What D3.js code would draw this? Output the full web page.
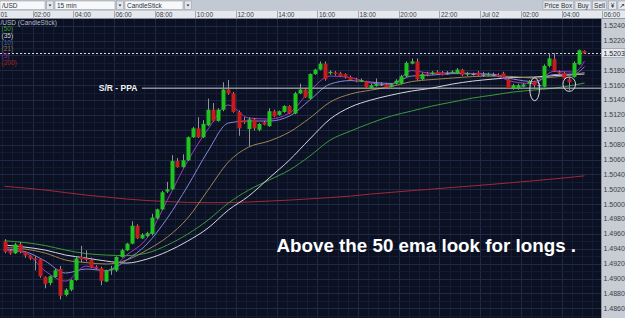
<!DOCTYPE html>
<html>
<head>
<meta charset="utf-8">
<script src="https://cdn.jsdelivr.net/npm/d3@7"></script>
<style>
  body { margin: 0; background: #0b1122; }
  svg { display: block; font-family: "Liberation Sans", Arial, sans-serif; }
</style>
</head>
<body>
<div id="chart"></div>
<script>
// 15 min GBP/USD bars, 1 Jul 00:30 -> 2 Jul 05:00
const opens = [
  1.4950, 1.4937, 1.4934, 1.4946, 1.4936, 1.4931, 1.4927, 1.4926, 1.4902, 1.4894,
  1.4902, 1.4913, 1.4878, 1.4885, 1.4898, 1.4929, 1.4927, 1.4925, 1.4916, 1.4914,
  1.4896, 1.4911, 1.4911, 1.4929, 1.4938, 1.4947, 1.4971, 1.4954, 1.4957, 1.4960,
  1.4981, 1.4993, 1.5017, 1.5020, 1.5058, 1.5050, 1.5059, 1.5090, 1.5102, 1.5090,
  1.5106, 1.5127, 1.5112, 1.5127, 1.5154, 1.5149, 1.5124, 1.5113, 1.5101, 1.5114,
  1.5100, 1.5110, 1.5105, 1.5125, 1.5120, 1.5124, 1.5132, 1.5122, 1.5149, 1.5154,
  1.5142, 1.5175, 1.5181, 1.5189, 1.5176, 1.5177, 1.5176, 1.5175, 1.5171, 1.5168,
  1.5165, 1.5165, 1.5156, 1.5159, 1.5161, 1.5161, 1.5158, 1.5162, 1.5162, 1.5172,
  1.5189, 1.5192, 1.5168, 1.5176, 1.5175, 1.5178, 1.5177, 1.5176, 1.5176, 1.5176,
  1.5181, 1.5174, 1.5175, 1.5177, 1.5174, 1.5173, 1.5174, 1.5174, 1.5176, 1.5168,
  1.5156, 1.5156, 1.5158, 1.5162, 1.5165, 1.5160, 1.5158, 1.5186, 1.5195, 1.5178,
  1.5176, 1.5168, 1.5171, 1.5188, 1.5206
];
const highs = [
  1.4953, 1.4939, 1.4948, 1.4949, 1.4937, 1.4932, 1.4930, 1.4927, 1.4903, 1.4904,
  1.4913, 1.4917, 1.4887, 1.4899, 1.4929, 1.4944, 1.4938, 1.4928, 1.4918, 1.4916,
  1.4912, 1.4917, 1.4930, 1.4940, 1.4948, 1.4977, 1.4973, 1.4961, 1.4963, 1.4987,
  1.4994, 1.5018, 1.5030, 1.5066, 1.5062, 1.5067, 1.5091, 1.5104, 1.5117, 1.5113,
  1.5142, 1.5136, 1.5129, 1.5164, 1.5167, 1.5151, 1.5126, 1.5117, 1.5117, 1.5116,
  1.5109, 1.5112, 1.5129, 1.5127, 1.5126, 1.5133, 1.5133, 1.5151, 1.5162, 1.5156,
  1.5176, 1.5182, 1.5192, 1.5192, 1.5180, 1.5179, 1.5178, 1.5176, 1.5173, 1.5170,
  1.5169, 1.5166, 1.5162, 1.5169, 1.5164, 1.5163, 1.5163, 1.5168, 1.5174, 1.5192,
  1.5196, 1.5196, 1.5177, 1.5178, 1.5179, 1.5180, 1.5179, 1.5179, 1.5180, 1.5183,
  1.5182, 1.5178, 1.5177, 1.5179, 1.5178, 1.5177, 1.5177, 1.5176, 1.5178, 1.5170,
  1.5162, 1.5162, 1.5163, 1.5167, 1.5166, 1.5163, 1.5188, 1.5203, 1.5203, 1.5180,
  1.5178, 1.5171, 1.5192, 1.5208, 1.5207
];
const lows = [
  1.4934, 1.4932, 1.4933, 1.4934, 1.4928, 1.4925, 1.4911, 1.4901, 1.4887, 1.4891,
  1.4901, 1.4872, 1.4876, 1.4883, 1.4897, 1.4922, 1.4923, 1.4914, 1.4912, 1.4891,
  1.4895, 1.4905, 1.4909, 1.4928, 1.4937, 1.4946, 1.4953, 1.4953, 1.4956, 1.4958,
  1.4980, 1.4992, 1.5015, 1.5019, 1.5049, 1.5049, 1.5058, 1.5089, 1.5089, 1.5089,
  1.5105, 1.5111, 1.5111, 1.5125, 1.5147, 1.5123, 1.5092, 1.5108, 1.5078, 1.5099,
  1.5098, 1.5106, 1.5104, 1.5117, 1.5119, 1.5123, 1.5121, 1.5121, 1.5148, 1.5143,
  1.5141, 1.5174, 1.5180, 1.5166, 1.5174, 1.5173, 1.5171, 1.5169, 1.5166, 1.5164,
  1.5164, 1.5155, 1.5155, 1.5158, 1.5159, 1.5156, 1.5157, 1.5161, 1.5161, 1.5171,
  1.5188, 1.5166, 1.5167, 1.5172, 1.5174, 1.5174, 1.5173, 1.5174, 1.5175, 1.5175,
  1.5172, 1.5172, 1.5173, 1.5172, 1.5171, 1.5172, 1.5172, 1.5171, 1.5170, 1.5155,
  1.5154, 1.5154, 1.5157, 1.5161, 1.5156, 1.5157, 1.5157, 1.5184, 1.5178, 1.5175,
  1.5168, 1.5153, 1.5170, 1.5187, 1.5202
];
const closes = [
  1.4936, 1.4934, 1.4946, 1.4936, 1.4931, 1.4927, 1.4925, 1.4903, 1.4893, 1.4903,
  1.4911, 1.4877, 1.4885, 1.4898, 1.4927, 1.4926, 1.4925, 1.4915, 1.4914, 1.4897,
  1.4911, 1.4913, 1.4929, 1.4938, 1.4947, 1.4971, 1.4954, 1.4959, 1.4961, 1.4982,
  1.4993, 1.5016, 1.5020, 1.5058, 1.5050, 1.5059, 1.5090, 1.5102, 1.5090, 1.5108,
  1.5127, 1.5112, 1.5127, 1.5154, 1.5149, 1.5124, 1.5102, 1.5110, 1.5114, 1.5102,
  1.5108, 1.5107, 1.5125, 1.5118, 1.5125, 1.5132, 1.5122, 1.5149, 1.5154, 1.5144,
  1.5175, 1.5181, 1.5189, 1.5168, 1.5178, 1.5175, 1.5172, 1.5171, 1.5167, 1.5166,
  1.5167, 1.5157, 1.5160, 1.5162, 1.5161, 1.5157, 1.5161, 1.5166, 1.5172, 1.5190,
  1.5192, 1.5168, 1.5175, 1.5174, 1.5177, 1.5175, 1.5174, 1.5176, 1.5178, 1.5181,
  1.5174, 1.5176, 1.5175, 1.5173, 1.5174, 1.5175, 1.5174, 1.5172, 1.5171, 1.5156,
  1.5160, 1.5160, 1.5161, 1.5165, 1.5160, 1.5160, 1.5186, 1.5196, 1.5179, 1.5176,
  1.5169, 1.5164, 1.5190, 1.5207, 1.5203
];

// moving averages at these bar numbers
const emaBars = [0, 4, 8, 12, 16, 20, 24, 28, 32, 36, 40, 44, 48, 52, 56, 60, 64, 68, 72, 76,
                 80, 84, 88, 92, 96, 100, 104, 108, 112, 114];
const ema5 = [1.49383, 1.49349, 1.49101, 1.48966, 1.49168, 1.49101, 1.49316, 1.49544, 1.50055, 1.50580,
              1.51010, 1.51333, 1.51158, 1.51145, 1.51225, 1.51521, 1.51723, 1.51703, 1.51629, 1.51608,
              1.51797, 1.51759, 1.51770, 1.51756, 1.51736, 1.51646, 1.51622, 1.51787, 1.51776, 1.51924];
const ema10 = [1.49397, 1.49363, 1.49235, 1.49074, 1.49128, 1.49107, 1.49249, 1.49464, 1.49813, 1.50244,
               1.50714, 1.51091, 1.51118, 1.51118, 1.51185, 1.51400, 1.51615, 1.51662, 1.51642, 1.51622,
               1.51723, 1.51736, 1.51756, 1.51756, 1.51747, 1.51682, 1.51649, 1.51743, 1.51750, 1.51850];
const ema21 = [1.49417, 1.49397, 1.49343, 1.49249, 1.49215, 1.49195, 1.49249, 1.49383, 1.49558, 1.49813,
               1.50190, 1.50566, 1.50768, 1.50849, 1.50970, 1.51158, 1.51373, 1.51481, 1.51534, 1.51582,
               1.51649, 1.51676, 1.51696, 1.51716, 1.51723, 1.51716, 1.51696, 1.51709, 1.51743, 1.51770];
const ema35 = [1.49450, 1.49423, 1.49383, 1.49316, 1.49276, 1.49235, 1.49208, 1.49262, 1.49363, 1.49504,
               1.49679, 1.49921, 1.50109, 1.50351, 1.50593, 1.50876, 1.51145, 1.51306, 1.51400, 1.51467,
               1.51521, 1.51561, 1.51615, 1.51655, 1.51682, 1.51703, 1.51709, 1.51729, 1.51743, 1.51750];
const ema50 = [1.49508, 1.49484, 1.49444, 1.49383, 1.49336, 1.49316, 1.49309, 1.49343, 1.49450, 1.49598,
               1.49786, 1.50015, 1.50190, 1.50324, 1.50459, 1.50647, 1.50862, 1.50983, 1.51091, 1.51185,
               1.51252, 1.51319, 1.51373, 1.51427, 1.51467, 1.51508, 1.51534, 1.51561, 1.51602, 1.51629];
const ema200 = [1.50241, 1.50217, 1.50190, 1.50156, 1.50123, 1.50096, 1.50069, 1.50049, 1.50035, 1.50024,
                1.50020, 1.50022, 1.50029, 1.50042, 1.50055, 1.50072, 1.50089, 1.50109, 1.50136, 1.50159,
                1.50182, 1.50203, 1.50225, 1.50246, 1.50268, 1.50291, 1.50315, 1.50340, 1.50367, 1.50381];

const priceTicks = d3.range(1.4860, 1.52401, 0.0020);
const lastPrice = 1.5203;
const srLevel = 1.5156;
const srStartBar = 27;

const legendLabels = ["(50)", "(35)", "(10)", "(21)", "(5)", "(200)"];
const legendColors = ["#3f9f3f", "#cfd2d8", "#5568a8", "#8e7a4e", "#8a2fa0", "#a82222"];

const dimensions = {
  width: 625,
  height: 318,
  toolbar: 11,
  timeRow: 7.5,
  axisWidth: 24,
  barWidth: 4
};
const plot = {
  left: 0,
  right: dimensions.width - dimensions.axisWidth,
  top: dimensions.toolbar + dimensions.timeRow,
  bottom: dimensions.height
};

const svg = d3.select("#chart")
  .append("svg")
  .attr("width", dimensions.width)
  .attr("height", dimensions.height);

const startTime = Date.UTC(2010, 6, 1, 0, 30);
const barMs = 15 * 60 * 1000;
const barTime = i => new Date(startTime + i * barMs);

const xScale = d3.scaleUtc()
  .domain([new Date(Date.UTC(2010, 6, 1, 0, 0)), new Date(Date.UTC(2010, 6, 2, 6, 0))])
  .range([-8.2, 602.3]);
const barX = i => xScale(new Date(+barTime(i) + barMs / 2));

const yScale = d3.scaleLinear()
  .domain([1.4860, 1.5240])
  .range([308.3, 25.7]);

// plot background + grid
svg.append("rect")
  .attr("x", plot.left).attr("y", plot.top)
  .attr("width", plot.right - plot.left).attr("height", plot.bottom - plot.top)
  .attr("fill", "#0b1122");

svg.append("clipPath").attr("id", "plotClip")
  .append("rect")
  .attr("x", plot.left).attr("y", plot.top)
  .attr("width", plot.right - plot.left).attr("height", plot.bottom - plot.top);

const chart = svg.append("g").attr("clip-path", "url(#plotClip)");

const minorTimes = xScale.ticks(d3.utcMinute.every(30));
chart.append("g").selectAll("line")
  .data(minorTimes)
  .join("line")
  .attr("x1", d => Math.round(xScale(d)) + 0.5)
  .attr("x2", d => Math.round(xScale(d)) + 0.5)
  .attr("y1", plot.top).attr("y2", plot.bottom)
  .attr("stroke", d => d.getUTCMinutes() === 0 && d.getUTCHours() % 2 === 0 ? "#1d2945" : "#141c33")
  .attr("stroke-width", 1);

const minorPrices = d3.range(1.4840, 1.5260, 0.0010);
chart.append("g").selectAll("line")
  .data(minorPrices)
  .join("line")
  .attr("x1", plot.left).attr("x2", plot.right)
  .attr("y1", d => Math.round(yScale(d)) + 0.5)
  .attr("y2", d => Math.round(yScale(d)) + 0.5)
  .attr("stroke", (d, i) => i % 2 === 0 ? "#1d2945" : "#141c33")
  .attr("stroke-width", 1);

// moving averages
const emaSeries = [
  { values: ema200, color: "#a3283a" },
  { values: ema50, color: "#3c9a3c" },
  { values: ema35, color: "#d4d6de" },
  { values: ema21, color: "#9c8458" },
  { values: ema10, color: "#8488d8" },
  { values: ema5, color: "#a637c8" }
];
const line = d3.line()
  .x((d, i) => barX(emaBars[i]))
  .y(d => yScale(d))
  .curve(d3.curveMonotoneX);

chart.append("g").selectAll("path")
  .data(emaSeries)
  .join("path")
  .attr("d", d => line(d.values))
  .attr("fill", "none")
  .attr("stroke", d => d.color)
  .attr("stroke-width", 1);

// S/R line and current price
chart.append("line")
  .attr("x1", barX(srStartBar)).attr("x2", plot.right)
  .attr("y1", yScale(srLevel)).attr("y2", yScale(srLevel))
  .attr("stroke", "#cfd0d4").attr("stroke-width", 1);

chart.append("line")
  .attr("x1", plot.left).attr("x2", plot.right)
  .attr("y1", Math.round(yScale(lastPrice)) + 0.5).attr("y2", Math.round(yScale(lastPrice)) + 0.5)
  .attr("stroke", "#d8dade").attr("stroke-width", 1)
  .attr("stroke-dasharray", "2,2");

// candles
const bars = d3.range(opens.length);
const candleColor = i => closes[i] > opens[i] ? "#1fc41f" : closes[i] < opens[i] ? "#c81c1c" : "#9a9ea6";

const candles = chart.append("g").selectAll("g")
  .data(bars)
  .join("g");

candles.append("line")
  .attr("x1", i => Math.round(barX(i)) + 0.5)
  .attr("x2", i => Math.round(barX(i)) + 0.5)
  .attr("y1", i => yScale(highs[i]))
  .attr("y2", i => yScale(lows[i]))
  .attr("stroke", "#8e929a")
  .attr("stroke-width", 1);

candles.append("rect")
  .attr("x", i => Math.round(barX(i)) + 0.5 - dimensions.barWidth / 2)
  .attr("width", dimensions.barWidth)
  .attr("y", i => yScale(Math.max(opens[i], closes[i])))
  .attr("height", i => Math.max(1, yScale(Math.min(opens[i], closes[i])) - yScale(Math.max(opens[i], closes[i]))))
  .attr("fill", candleColor);

// hand drawn marks
const marks = [
  { bar: 104.2, top: 1.51701, bottom: 1.51391, halfBars: 0.95 },
  { bar: 111.0, top: 1.51711, bottom: 1.51517, halfBars: 1.24 }
];
chart.append("g").selectAll("ellipse")
  .data(marks)
  .join("ellipse")
  .attr("cx", d => barX(d.bar))
  .attr("cy", d => (yScale(d.top) + yScale(d.bottom)) / 2)
  .attr("rx", d => barX(d.bar + d.halfBars) - barX(d.bar))
  .attr("ry", d => (yScale(d.bottom) - yScale(d.top)) / 2)
  .attr("fill", "none")
  .attr("stroke", "#d6d8dc")
  .attr("stroke-width", 1);

chart.append("text")
  .attr("x", barX(srStartBar) - 4.5)
  .attr("y", yScale(srLevel) + 3)
  .attr("text-anchor", "end")
  .attr("font-size", 8.5)
  .attr("font-weight", "bold")
  .attr("fill", "#f2f2f2")
  .text("S/R - PPA");

chart.append("text")
  .attr("x", 276.5)
  .attr("y", 252)
  .attr("font-size", 18.8)
  .attr("font-weight", "bold")
  .attr("fill", "#ffffff")
  .text("Above the 50 ema look for longs .");

// legend
const legend = svg.append("g").attr("font-size", 6.5);
legend.append("text")
  .attr("x", 0.5).attr("y", 25)
  .attr("fill", "#b9bdc8")
  .text("/USD (CandleStick)");
legend.selectAll(".ma")
  .data(legendLabels)
  .join("text")
  .attr("class", "ma")
  .attr("x", 1.5)
  .attr("y", (d, i) => 31.4 + i * 6.65)
  .attr("fill", (d, i) => legendColors[i])
  .text(d => d);

// right price axis
svg.append("rect")
  .attr("x", plot.right).attr("y", plot.top)
  .attr("width", dimensions.axisWidth).attr("height", plot.bottom - plot.top)
  .attr("fill", "#c7ccd5");
svg.append("line")
  .attr("x1", plot.right + 0.5).attr("x2", plot.right + 0.5)
  .attr("y1", plot.top).attr("y2", plot.bottom)
  .attr("stroke", "#8c929e");

// the live price box covers the tick label beside it
svg.append("g").selectAll("text")
  .data(priceTicks.filter(d => Math.abs(d - lastPrice) > 0.0008))
  .join("text")
  .attr("x", plot.right + 2.5)
  .attr("y", d => yScale(d) + 2.4)
  .attr("font-size", 7)
  .attr("fill", "#3a3e46")
  .text(d => d3.format(".4f")(d));

svg.append("rect")
  .attr("x", plot.right + 0.5).attr("y", yScale(lastPrice) - 4.5)
  .attr("width", dimensions.axisWidth - 0.5).attr("height", 9)
  .attr("fill", "#e6e9ef").attr("stroke", "#7f8692").attr("stroke-width", 0.5);
svg.append("text")
  .attr("x", plot.right + 2.5)
  .attr("y", yScale(lastPrice) + 2.4)
  .attr("font-size", 7)
  .attr("fill", "#20242a")
  .text(d3.format(".4f")(lastPrice));

// time row
svg.append("rect")
  .attr("x", 0).attr("y", dimensions.toolbar)
  .attr("width", dimensions.width).attr("height", dimensions.timeRow)
  .attr("fill", "#e5e8ed");
svg.append("line")
  .attr("x1", 0).attr("x2", dimensions.width)
  .attr("y1", plot.top).attr("y2", plot.top)
  .attr("stroke", "#8c929e").attr("stroke-width", 0.8);

const timeTicks = xScale.ticks(d3.utcHour.every(2));
// the first midnight label sits off the left edge, only its day shows
const timeFormat = d => {
  if (xScale(d) < 0) return d3.utcFormat("%d")(d);
  return d.getUTCHours() === 0 ? d3.utcFormat("%b %d")(d) : d3.utcFormat("%H:%M")(d);
};
const timeAxis = svg.append("g").attr("font-size", 6.5);
timeAxis.selectAll("line")
  .data(timeTicks)
  .join("line")
  .attr("x1", d => Math.round(xScale(d)) + 0.5)
  .attr("x2", d => Math.round(xScale(d)) + 0.5)
  .attr("y1", dimensions.toolbar).attr("y2", plot.top)
  .attr("stroke", "#a4aab4");
timeAxis.selectAll("text")
  .data(timeTicks)
  .join("text")
  .attr("x", d => Math.max(0.5, xScale(d) + 1.5))
  .attr("y", dimensions.toolbar + 6)
  .attr("fill", "#3a3e46")
  .text(timeFormat);

// toolbar
svg.append("rect")
  .attr("x", 0).attr("y", 0)
  .attr("width", dimensions.width).attr("height", dimensions.toolbar)
  .attr("fill", "#c3c9d3");

const combos = [
  { x: 0, w: 45, label: "/USD" },
  { x: 55, w: 60, label: "15 min" },
  { x: 125, w: 58, label: "CandleStick" }
];
const combo = svg.append("g").attr("font-size", 6.5).selectAll("g")
  .data(combos)
  .join("g");
combo.append("rect")
  .attr("x", d => d.x).attr("y", 1)
  .attr("width", d => d.w).attr("height", 8.5)
  .attr("fill", "#f7f8fa").attr("stroke", "#8f95a0").attr("stroke-width", 0.5);
combo.append("text")
  .attr("x", d => d.x + 2).attr("y", 7.7)
  .attr("fill", "#2a2e34")
  .text(d => d.label);
combo.append("rect")
  .attr("x", d => d.x + d.w + 1.5).attr("y", 1)
  .attr("width", 7).attr("height", 8.5)
  .attr("fill", "#e3e6eb").attr("stroke", "#8f95a0").attr("stroke-width", 0.5);
combo.append("path")
  .attr("d", d => `M${d.x + d.w + 3.5},4.5 h3 l-1.5,2 z`)
  .attr("fill", "#30343a");

const buttons = [
  { x: 543, w: 30.5, label: "Price Box" },
  { x: 575, w: 16, label: "Buy" },
  { x: 592.5, w: 14, label: "Sell" },
  { x: 608.5, w: 8, label: "¥" },
  { x: 618, w: 8, label: "↗" }
];
const button = svg.append("g").attr("font-size", 6.5).selectAll("g")
  .data(buttons)
  .join("g");
button.append("rect")
  .attr("x", d => d.x).attr("y", 1)
  .attr("width", d => d.w).attr("height", 8.5)
  .attr("fill", "#e6e9ee").attr("stroke", "#8f95a0").attr("stroke-width", 0.5);
button.append("text")
  .attr("x", d => d.x + d.w / 2).attr("y", 7.7)
  .attr("text-anchor", "middle")
  .attr("fill", "#2a2e34")
  .text(d => d.label);
</script>
</body>
</html>
